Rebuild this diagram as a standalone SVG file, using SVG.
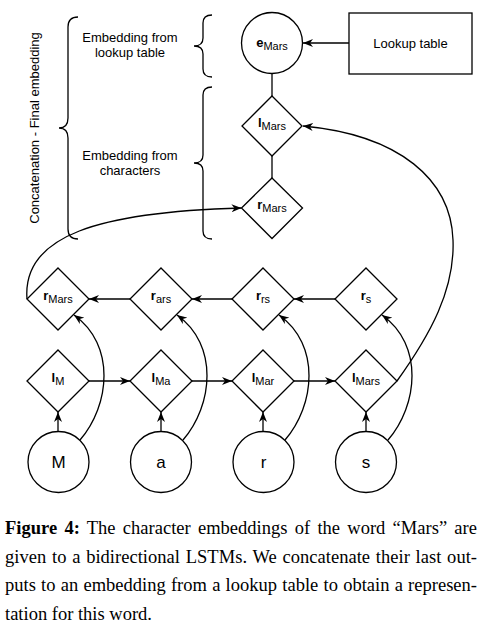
<svg xmlns="http://www.w3.org/2000/svg" width="486" height="633" viewBox="0 0 486 633">
<defs>
<marker id="arr" markerUnits="userSpaceOnUse" markerWidth="11" markerHeight="9" refX="10" refY="4.5" orient="auto">
<path d="M0,0.5 L10,4.5 L0,8.5 L3,4.5 Z" fill="#000"/>
</marker>
<style>
.s{fill:#fff;stroke:#000;stroke-width:1.3}
.c{fill:none;stroke:#000;stroke-width:1.3}
.a{fill:none;stroke:#000;stroke-width:1.3;marker-end:url(#arr)}
.t{font-family:"Liberation Sans",Arial,sans-serif;font-size:13px;fill:#000;text-anchor:middle}
.b{font-weight:bold}
.sub{font-size:11px}
.big{font-size:17px}
.cap{font-family:"Liberation Serif","Times New Roman",serif;font-size:18.5px;fill:#000}
</style>
</defs>
<rect width="486" height="633" fill="#fff"/>

<g id="connectors">
<line class="c" x1="272" y1="73.5" x2="272" y2="96"/>
<line class="c" x1="272" y1="156" x2="272" y2="178"/>
<line class="a" x1="349" y1="43" x2="303" y2="43"/>
<path class="a" d="M27,299 C22,235 100,212 241.5,208"/>
<path class="a" d="M397,381 C430,335 455,290 453,240 C451,180 400,135 303,126"/>
<line class="a" x1="89" y1="381" x2="130" y2="381"/>
<line class="a" x1="192" y1="381" x2="232" y2="381"/>
<line class="a" x1="294" y1="381" x2="335" y2="381"/>
<line class="a" x1="130" y1="299" x2="89" y2="299"/>
<line class="a" x1="232" y1="299" x2="192" y2="299"/>
<line class="a" x1="335" y1="299" x2="294" y2="299"/>
<line class="a" x1="58" y1="431.5" x2="58" y2="412"/>
<line class="a" x1="161" y1="431.5" x2="161" y2="412"/>
<line class="a" x1="263" y1="431.5" x2="263" y2="412"/>
<line class="a" x1="366" y1="431.5" x2="366" y2="412"/>
<path class="a" d="M80,440 C110,405 116,345 74,315"/>
<path class="a" d="M183,440 C213,405 219,345 177,315"/>
<path class="a" d="M285,440 C315,405 321,345 279,315"/>
<path class="a" d="M388,440 C418,405 424,345 382,315"/>
</g>

<g id="braces">
<path class="c" d="M78,17 Q68,17 68,27 L68,118 Q68,128 59,128 Q68,128 68,138 L68,229 Q68,239 78,239"/>
<path class="c" d="M212,15 Q203,15 203,23 L203,38 Q203,46 194,46 Q203,46 203,54 L203,69 Q203,77 212,77"/>
<path class="c" d="M212,87 Q203,87 203,95 L203,155 Q203,163 194,163 Q203,163 203,171 L203,231 Q203,239 212,239"/>
</g>

<g id="labels">
<text class="t" transform="translate(39,128) rotate(-90)">Concatenation - Final embedding</text>
<text class="t" x="130" y="42">Embedding from</text>
<text class="t" x="130" y="57">lookup table</text>
<text class="t" x="130" y="160">Embedding from</text>
<text class="t" x="130" y="175">characters</text>
</g>

<g id="lookup-table">
<rect class="s" x="349" y="13" width="123" height="61"/>
<text class="t" x="410.5" y="48">Lookup table</text>
</g>

<g id="e-mars">
<circle class="s" cx="272" cy="43" r="30.5"/>
<text class="t" x="272" y="47"><tspan class="b">e</tspan><tspan class="sub" dy="3">Mars</tspan></text>
</g>
<g id="l-mars-top">
<path class="s" d="M272,96 L302,126 L272,156 L242,126 Z"/>
<text class="t" x="272" y="127"><tspan class="b">l</tspan><tspan class="sub" dy="3">Mars</tspan></text>
</g>
<g id="r-mars-top">
<path class="s" d="M272,178 L302.5,208 L272,238.5 L241.5,208 Z"/>
<text class="t" x="272" y="209"><tspan class="b">r</tspan><tspan class="sub" dy="3">Mars</tspan></text>
</g>

<g id="r-Mars">
<path class="s" d="M58,268 L89,299 L58,330 L27,299 Z"/>
<text class="t" x="58" y="300"><tspan class="b">r</tspan><tspan class="sub" dy="3">Mars</tspan></text>
</g>
<g id="r-ars">
<path class="s" d="M161,268 L192,299 L161,330 L130,299 Z"/>
<text class="t" x="161" y="300"><tspan class="b">r</tspan><tspan class="sub" dy="3">ars</tspan></text>
</g>
<g id="r-rs">
<path class="s" d="M263,268 L294,299 L263,330 L232,299 Z"/>
<text class="t" x="263" y="300"><tspan class="b">r</tspan><tspan class="sub" dy="3">rs</tspan></text>
</g>
<g id="r-s">
<path class="s" d="M366,268 L397,299 L366,330 L335,299 Z"/>
<text class="t" x="366" y="300"><tspan class="b">r</tspan><tspan class="sub" dy="3">s</tspan></text>
</g>

<g id="l-M">
<path class="s" d="M58,350 L89,381 L58,412 L27,381 Z"/>
<text class="t" x="58" y="382"><tspan class="b">l</tspan><tspan class="sub" dy="3">M</tspan></text>
</g>
<g id="l-Ma">
<path class="s" d="M161,350 L192,381 L161,412 L130,381 Z"/>
<text class="t" x="161" y="382"><tspan class="b">l</tspan><tspan class="sub" dy="3">Ma</tspan></text>
</g>
<g id="l-Mar">
<path class="s" d="M263,350 L294,381 L263,412 L232,381 Z"/>
<text class="t" x="263" y="382"><tspan class="b">l</tspan><tspan class="sub" dy="3">Mar</tspan></text>
</g>
<g id="l-Mars">
<path class="s" d="M366,350 L397,381 L366,412 L335,381 Z"/>
<text class="t" x="366" y="382"><tspan class="b">l</tspan><tspan class="sub" dy="3">Mars</tspan></text>
</g>

<g id="c-M">
<circle class="s" cx="58.5" cy="462" r="30.5"/>
<text class="t big" x="58.5" y="468">M</text>
</g>
<g id="c-a">
<circle class="s" cx="161" cy="462" r="30.5"/>
<text class="t big" x="161" y="468">a</text>
</g>
<g id="c-r">
<circle class="s" cx="263.5" cy="462" r="30.5"/>
<text class="t big" x="263.5" y="468">r</text>
</g>
<g id="c-s">
<circle class="s" cx="366" cy="462" r="30.5"/>
<text class="t big" x="366" y="468">s</text>
</g>

<g id="caption">
<text class="cap" x="5" y="534" word-spacing="2.6" textLength="472" lengthAdjust="spacing"><tspan font-weight="bold">Figure 4:</tspan> The character embeddings of the word “Mars” are</text>
<text class="cap" x="5" y="562.5" word-spacing="1.1" textLength="472" lengthAdjust="spacing">given to a bidirectional LSTMs. We concatenate their last out-</text>
<text class="cap" x="5" y="591" word-spacing="0.6" textLength="472" lengthAdjust="spacing">puts to an embedding from a lookup table to obtain a represen-</text>
<text class="cap" x="5" y="619.5">tation for this word.</text>
</g>
</svg>
